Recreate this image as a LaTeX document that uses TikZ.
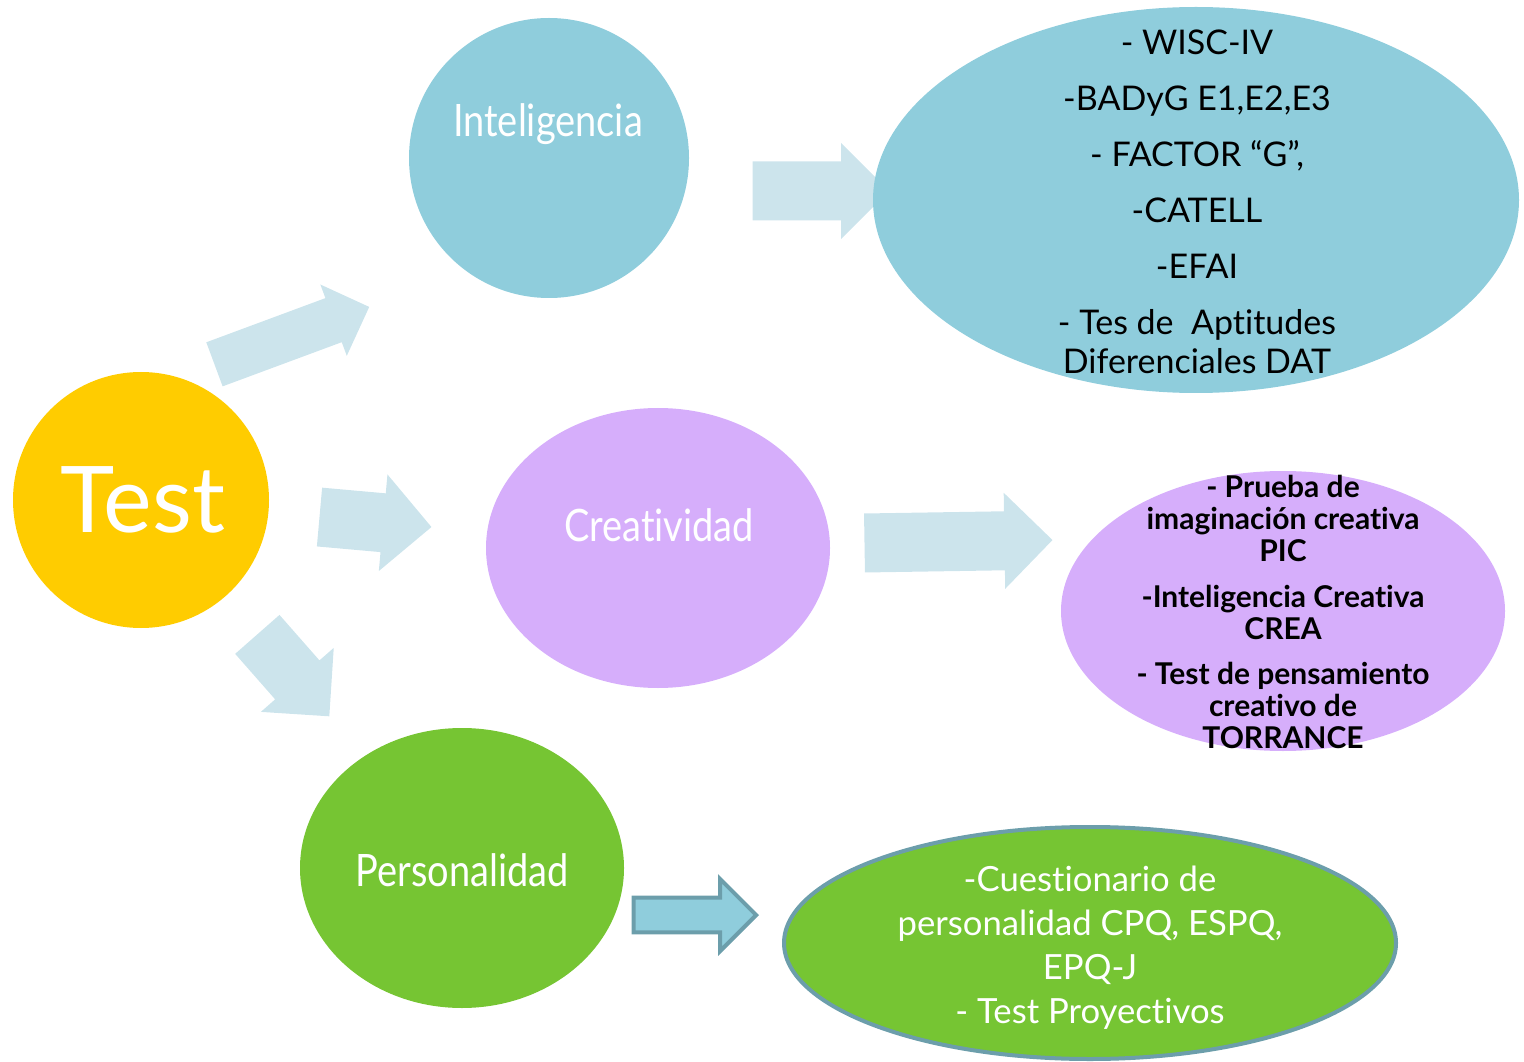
\documentclass[tikz,border=0pt]{standalone}
\usepackage{fontspec}
\setmainfont{Lato}[Ligatures={TeX,NoCommon}]
\newfontfamily\catfont{Lato}[Ligatures={TeX,NoCommon},FakeStretch=0.85]
\usetikzlibrary{shapes.geometric,shapes.arrows}

\definecolor{testyellow}{RGB}{255,204,0}
\definecolor{intelblue}{RGB}{143,205,220}
\definecolor{creatlilac}{RGB}{214,174,251}
\definecolor{persgreen}{RGB}{118,197,51}
\definecolor{arrowblue}{RGB}{204,228,236}
\definecolor{steelline}{RGB}{108,158,171}

\tikzset{every picture/.style={line width=0.75pt}}
\tikzset{
  blob/.style={ellipse, draw=none, inner sep=0pt},
  blockarrow/.style={single arrow, draw=none, fill=arrowblue, inner xsep=0pt,
    single arrow tip angle=90, anchor=tail},
  cattext/.style={text=white, anchor=base, inner sep=0pt,
    font=\catfont\fontsize{33.5}{40}\selectfont},
}

\begin{document}
\begin{tikzpicture}[x=0.75pt,y=0.75pt,yscale=-1,xscale=1]
\useasboundingbox (0,0) rectangle (1524,1062);

%Right Arrow: Test -> Inteligencia
\node [blockarrow, rotate=20.35, minimum height=123.8pt, inner ysep=17.25pt, single arrow head extend=10.9pt] (arrintel) at (214,364.5) {};
%Right Arrow: Test -> Creatividad
\node [blockarrow, rotate=-5.1, minimum height=84.3pt, inner ysep=21.75pt, single arrow head extend=14.25pt] (arrcreat) at (319,517) {};
%Right Arrow: Test -> Personalidad
\node [blockarrow, rotate=-48.7, minimum height=81.8pt, inner ysep=21.75pt, single arrow head extend=14.25pt] (arrpers) at (257,634) {};
%Right Arrow: Inteligencia -> list
\node [blockarrow, minimum height=102.4pt, inner ysep=21.75pt, single arrow head extend=13.9pt] (arrintellist) at (752,191) {};
%Right Arrow: Creatividad -> list
\node [blockarrow, rotate=0.9, minimum height=141pt, inner ysep=21.75pt, single arrow head extend=13.9pt] (arrcreatlist) at (864,543) {};
%Right Arrow: Personalidad -> list
\node [blockarrow, fill=intelblue, draw=steelline, line width=3pt, minimum height=92pt, inner ysep=11.6pt, single arrow head extend=13.9pt] (arrperslist) at (631.5,915) {};

%Shape: Circle
\node [blob, fill=testyellow, minimum width=192pt, minimum height=192pt] (test) at (141,500) {};
%Shape: Circle
\node [blob, fill=intelblue, minimum width=210pt, minimum height=210pt] (intel) at (549,158) {};
%Shape: Ellipse
\node [blob, fill=creatlilac, minimum width=258pt, minimum height=210pt] (creat) at (658,548) {};
%Shape: Ellipse
\node [blob, fill=persgreen, minimum width=243pt, minimum height=210pt] (pers) at (462,868) {};
%Shape: Ellipse
\node [blob, fill=intelblue, minimum width=484.5pt, minimum height=289.5pt] (intellist) at (1196,200) {};
%Shape: Ellipse
\node [blob, fill=creatlilac, minimum width=333pt, minimum height=210pt] (creatlist) at (1283,611) {};
%Shape: Ellipse
\node [blob, fill=persgreen, draw=steelline, line width=3pt, minimum width=459pt, minimum height=174pt] (perslist) at (1090,943) {};

% Text Node
\node [text=white, inner sep=0pt, font=\fontsize{69}{80}\selectfont] (test-t) at (143,500) {Test};
% Text Node
\node [cattext] (intel-t) at (548,137) {Inteligencia};
% Text Node
\node [cattext] (creat-t) at (659,541) {Creatividad};
% Text Node
\node [cattext] (pers-t) at (462,886) {Personalidad};
% Text Node
\node [align=center, inner sep=0pt, font=\fontsize{25.5}{29.25}\selectfont] (intellist-t) at (1197,202) {- WISC-IV\\[12.75pt] -BADyG E1,E2,E3\\[12.75pt] - FACTOR “G”,\\[12.75pt] -CATELL\\[12.75pt] -EFAI\\[12.75pt] - Tes de~ Aptitudes\\ Diferenciales DAT};
% Text Node
\node [align=center, inner sep=0pt, font=\bfseries\fontsize{22.5}{24}\selectfont] (creatlist-t) at (1283,612) {- Prueba de\\ imaginación creativa\\ PIC\\[10pt] -Inteligencia Creativa\\ CREA\\[10pt] - Test de pensamiento\\ creativo de\\ TORRANCE};
% Text Node
\node [align=center, text=white, inner sep=0pt, font=\fontsize{26}{33}\selectfont] (perslist-t) at (1090,948) {-Cuestionario de\\ personalidad CPQ, ESPQ,\\ EPQ-J\\ - Test Proyectivos};

\end{tikzpicture}
\end{document}
